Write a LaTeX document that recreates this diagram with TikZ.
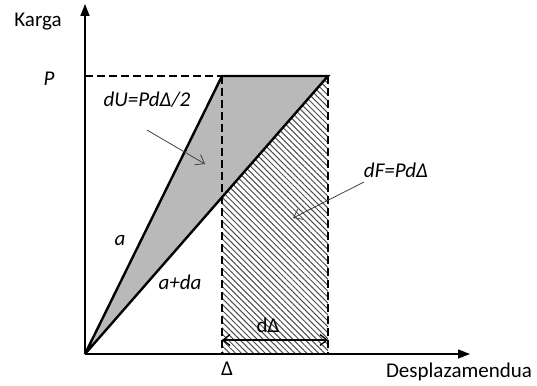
\documentclass[tikz,border=0pt]{standalone}
\usepackage{fontspec}
\setmainfont{Carlito}
\usetikzlibrary{arrows.meta,patterns.meta}
\begin{document}
\begin{tikzpicture}[x=1pt,y=-1pt,
  axis/.style={line width=1.4pt,-{Triangle[length=12pt,width=9pt]}},
  thick line/.style={line width=2.4pt},
  dashline/.style={line width=1.4pt,dash pattern=on 8pt off 4pt},
  pointer/.style={line width=0.8pt,draw=black!75,-{Straight Barb[length=8pt,width=12pt,line width=0.8pt]}},
  dim/.style={line width=1.3pt,{Straight Barb[length=7pt,width=11pt]}-{Straight Barb[length=7pt,width=11pt]}},
  lbl/.style={font=\fontsize{21}{24}\selectfont,inner sep=0pt},
  ilbl/.style={font=\fontsize{21}{24}\selectfont\itshape,inner sep=0pt}]
\useasboundingbox (0,0) rectangle (537,385);
% key points
\coordinate (O) at (85,354);
\coordinate (Yt) at (85,4);
\coordinate (Xe) at (470,354);
\coordinate (Pl) at (85,76);
\coordinate (A) at (222,76);
\coordinate (B) at (328,76);
\coordinate (C) at (222,354);
\coordinate (D) at (328,354);
\coordinate (E) at (222,198.3);
% fills
\fill[gray!55] (O) -- (A) -- (B) -- cycle;
\fill[pattern={Lines[angle=-45,distance=4.2pt,line width=1pt]},pattern color=black!70] (C) -- (E) -- (B) -- (D) -- cycle;
% dashed lines
\draw[dashline] (Pl) -- (A);
\draw[dashline] (A) -- (C);
\draw[dashline] (B) -- (D);
% thick lines
\draw[thick line,line join=miter] (O) -- (A) -- (B) -- (O);
% axes
\draw[axis] (O) -- (Yt);
\draw[axis] (O) -- (Xe);
% dimension
\coordinate (d1) at (222,340);
\coordinate (d2) at (328,340);
\draw[dim] (d1) -- (d2);
% pointers
\coordinate (p1s) at (147,130);
\coordinate (p1e) at (205,164);
\draw[pointer] (p1s) -- (p1e);
\coordinate (p2s) at (364,182);
\coordinate (p2e) at (293,218);
\draw[pointer] (p2s) -- (p2e);
% labels
\node[lbl] (karga) at (38,22) {Karga};
\node[ilbl] (P) at (49,79) {P};
\node[ilbl] (dU) at (147,100) {dU=PdΔ/2};
\node[ilbl] (dF) at (396,170) {dF=PdΔ};
\node[ilbl] (a) at (120,240) {a};
\node[ilbl] (ada) at (180,282) {a+da};
\node[lbl] (dD) at (268,325) {dΔ};
\node[lbl] (Dl) at (227,369) {Δ};
\node[lbl] (desp) at (459,372) {Desplazamendua};
\end{tikzpicture}
\end{document}
